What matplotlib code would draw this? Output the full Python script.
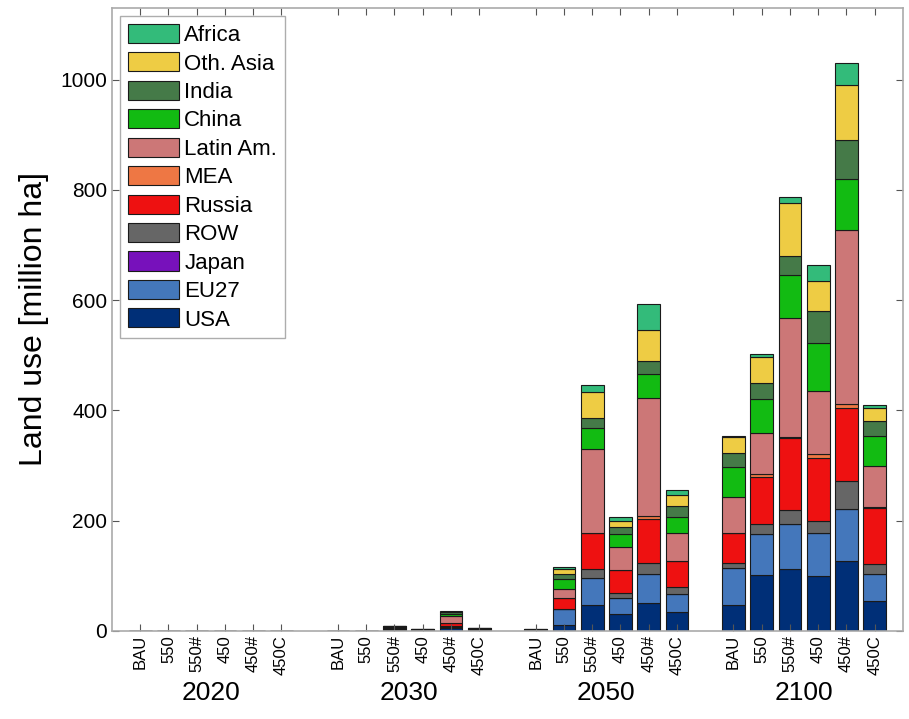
import matplotlib
matplotlib.use('Agg')
import matplotlib.pyplot as plt
import matplotlib.transforms as mtransforms
import numpy as np

plt.rcParams['font.family'] = ['Liberation Sans', 'DejaVu Sans']

years = ['2020', '2030', '2050', '2100']
scenarios = ['BAU', '550', '550#', '450', '450#', '450C']
regions = ['USA', 'EU27', 'Japan', 'ROW', 'Russia', 'MEA', 'Latin Am.',
           'China', 'India', 'Oth. Asia', 'Africa']
colors = ['#002f77', '#4477bb', '#7711bb', '#666666', '#ee1111', '#ee7744',
          '#cc7777', '#12bb12', '#457a48', '#eecc44', '#33bb7a']

# land use per region [million ha], one row per bar (year x scenario)
usa = [0, 0, 0, 0, 0, 0,
       0, 0, 1.0, 0.5, 5, 1.0,
       0.3, 11, 47, 30, 51, 35,
       48, 101.6, 112.5, 100, 127.5, 55]
eu27 = [0, 0, 0, 0, 0, 0,
        0, 0, 1.5, 0.5, 3, 1.0,
        0, 28, 48.5, 30.5, 52, 33,
        67, 74, 81, 77, 94.5, 48]
japan = [0] * 24
row = [0, 0, 0, 0, 0, 0,
       0, 0, 1.0, 0.5, 1, 0.5,
       0, 1, 16.5, 8, 21, 11,
       8, 18, 26, 22.5, 50, 18.5]
russia = [0, 0, 0, 0, 0, 0,
          0, 0, 2.0, 0.5, 6, 1.0,
          0.3, 20, 65, 42, 79, 48,
          54, 86.5, 130, 114, 132, 102]
mea = [0, 0, 0, 0, 0, 0,
       0, 0, 0.3, 0, 0.3, 0,
       0, 0.5, 1, 0.5, 6, 0.5,
       0.5, 4, 2.5, 7, 7, 0.5]
latin = [0, 0, 0, 0, 0, 0,
         0, 0, 2.0, 0.5, 12, 1.0,
         0.3, 15, 153, 41, 213, 50,
         65.5, 74.5, 215.5, 114, 315.5, 75.5]
china = [0, 0, 0, 0, 0, 0,
         0, 0, 0.8, 0.3, 4, 0.5,
         1.5, 18, 38, 23.5, 44, 28.5,
         55, 63, 78.5, 87.5, 93.5, 55]
india = [0, 0, 0, 0, 0, 0,
         0, 0, 0.8, 0.2, 3, 0.5,
         0.5, 9, 18, 14, 24, 20,
         24.5, 29, 34.5, 59, 71, 26.5]
oth_asia = [0, 0, 0, 0, 0, 0,
            0, 0, 0.3, 0, 1, 0.2,
            0, 10, 45.6, 10.6, 56, 21,
            29.5, 45.5, 96.5, 53, 100, 23]
africa = [0, 0, 0, 0, 0, 0,
          0, 0, 0.2, 0, 0.5, 0.1,
          0, 4, 14, 7.5, 47, 8,
          1.5, 6, 10.5, 29, 39, 6]

data = [usa, eu27, japan, row, russia, mea, latin, china, india, oth_asia, africa]

# bar positions: groups of 6 with one empty slot between years
pos = []
for g in range(len(years)):
    for s in range(len(scenarios)):
        pos.append(g * 7 + s + 1)
pos = np.array(pos)

fig = plt.figure(figsize=(9.09, 7.19), dpi=100)
ax = fig.add_axes([0.1232, 0.1224, 0.8702, 0.8665])

bottom = np.zeros(len(pos))
handles = []
for name, vals, c in zip(regions, data, colors):
    vals = np.array(vals, dtype=float)
    b = ax.bar(pos, vals, width=0.8, bottom=bottom, color=c,
               edgecolor='#1a1a1a', linewidth=0.8, label=name)
    handles.append(b)
    bottom += vals

ax.set_xlim(0, 28)
ax.set_ylim(0, 1130)
ax.set_yticks([0, 200, 400, 600, 800, 1000])
ax.set_xticks(pos)
ax.set_xticklabels(scenarios * len(years), rotation=90, fontsize=12)
ax.tick_params(axis='y', labelsize=15)
ax.tick_params(direction='in', length=5, top=True, right=True, color='#555555')
ax.tick_params(axis='x', pad=3)
for sp in ax.spines.values():
    sp.set_color('#aaaaaa')
    sp.set_linewidth(1.2)
ax.set_ylabel('Land use [million ha]', fontsize=23, labelpad=8)

trans = mtransforms.blended_transform_factory(ax.transData, ax.transAxes)
for g, yr in enumerate(years):
    ax.text(g * 7 + 3.5, -0.08, yr, transform=trans, ha='center', va='top',
            fontsize=19)

leg = ax.legend(handles[::-1], regions[::-1], loc='upper left',
                bbox_to_anchor=(0.01, 0.987), fontsize=16, frameon=True,
                fancybox=False, edgecolor='#999999', handlelength=2.3,
                handleheight=0.95, labelspacing=0.28, borderpad=0.35,
                handletextpad=0.25, borderaxespad=0)
leg.get_frame().set_linewidth(1.0)

fig.savefig('out.png', dpi=100)
